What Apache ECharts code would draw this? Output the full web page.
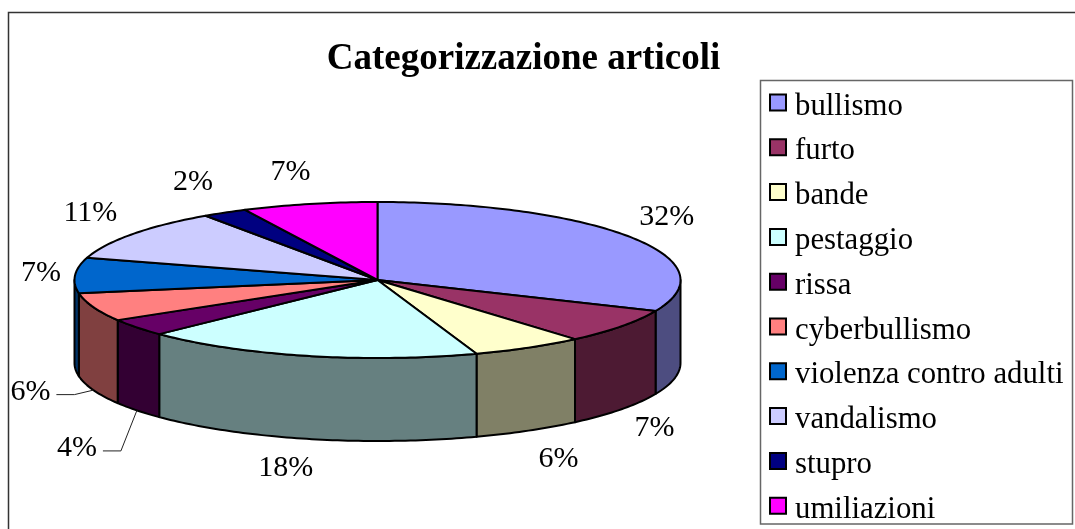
<!DOCTYPE html>
<html><head><meta charset="utf-8">
<style>html,body{margin:0;padding:0;background:#fff}#c{width:1075px;height:529px}</style>
<script src="https://cdn.jsdelivr.net/npm/echarts@6/dist/echarts.min.js"></script>
</head><body><div id="c"></div>
<script>
const categories = ['bullismo','furto','bande','pestaggio','rissa','cyberbullismo','violenza contro adulti','vandalismo','stupro','umiliazioni'];
const shares = [31.5,7.2,6.0,18.1,3.6,5.9,7.3,10.8,2.4,7.2];
const colors = ['#9999FF','#993366','#FFFFCC','#CCFFFF','#660066','#FF8080','#0066CC','#CCCCFF','#000080','#FF00FF'];
const leaderLabels = ['rissa','cyberbullismo'];

// layout only
const FONT = '"Liberation Serif", serif';
const PIE = {cx:377.5, cy:280, rx:303, ry:78, depth:83};
const LABEL_NUDGE = [[36,-20],[33,19],[30,28],[-21,29],[-60,38],[-63,2],[-34,-2],[-42,-21],[-32,-30],[-19,-32]];

const total = shares.reduce((a,b)=>a+b,0);
const starts = [];
shares.reduce((acc,v,i)=>{starts[i]=acc;return acc+v;},0);
const rad = pct => pct/total*2*Math.PI;
const rim = (a,dy=0) => [PIE.cx+PIE.rx*Math.sin(a), PIE.cy-PIE.ry*Math.cos(a)+dy];
function arc(a0,a1,dy=0){
  const n=Math.max(2,Math.ceil((a1-a0)/(Math.PI/180)));
  const p=[];
  for(let k=0;k<=n;k++)p.push(rim(a0+(a1-a0)*k/n,dy));
  return p;
}
function shade(hex){
  const n=parseInt(hex.slice(1),16);
  const h=v=>Math.round(v*0.5).toString(16).padStart(2,'0');
  return '#'+h(n>>16&255)+h(n>>8&255)+h(n&255);
}
function renderSlice(params,api){
  const i=params.seriesIndex, value=api.value(0);
  const a0=rad(starts[i]), a1=rad(starts[i]+value), mid=(a0+a1)/2;
  const children=[];
  const s0=Math.max(a0,Math.PI/2), s1=Math.min(a1,Math.PI*1.5);
  if(s1>s0){
    children.push({type:'polygon',z2:1,shape:{points:arc(s0,s1).concat(arc(s0,s1,PIE.depth).reverse())},
      style:{fill:shade(colors[i]),stroke:'#000',lineWidth:2,lineJoin:'round'}});
  }
  children.push({type:'polygon',z2:2,shape:{points:[[PIE.cx,PIE.cy]].concat(arc(a0,a1))},
    style:{fill:colors[i],stroke:'#000',lineWidth:2,lineJoin:'round'}});
  const anchor=rim(mid,Math.cos(mid)<0?PIE.depth:0);
  const lx=anchor[0]+LABEL_NUDGE[i][0], ly=anchor[1]+LABEL_NUDGE[i][1];
  children.push({type:'text',z2:3,style:{text:Math.round(value)+'%',x:lx,y:ly,align:'center',verticalAlign:'middle',
    font:'30px '+FONT,fill:'#000'}});
  if(leaderLabels.includes(categories[i])){
    children.push({type:'polyline',z2:3,shape:{points:[[lx+26,ly+2.5],[lx+44,ly+2.5],anchor]},
      style:{fill:null,stroke:'#222',lineWidth:1}});
  }
  return {type:'group',children};
}
const chart=echarts.init(document.getElementById('c'),null,{renderer:'canvas'});
chart.setOption({
  animation:false,
  backgroundColor:'#fff',
  title:{text:'Categorizzazione articoli',left:518.5,top:36,textAlign:'center',
    textStyle:{fontFamily:FONT,fontSize:37,fontWeight:'bold',color:'#000'}},
  legend:{orient:'vertical',left:764,top:78,height:480,selectedMode:false,data:categories,icon:'rect',
    itemWidth:16,itemHeight:16,itemGap:5.8,
    itemStyle:{borderColor:'#000',borderWidth:2},
    formatter:name=>'{t|'+name+'}',
    textStyle:{fontFamily:FONT,fontSize:30.8,color:'#000',
      rich:{t:{fontFamily:FONT,fontSize:30.8,color:'#000',lineHeight:30,padding:[8,0,0,4]}}}},
  graphic:[
    {type:'rect',silent:true,z:-1,shape:{x:8.5,y:12.5,width:1080,height:530},style:{fill:'#fff',stroke:'#333',lineWidth:1.5}},
    {type:'rect',silent:true,z:-1,shape:{x:760.5,y:80.5,width:312,height:443.5},style:{fill:'#fff',stroke:'#666',lineWidth:1.5}}
  ],
  series:categories.map((name,i)=>({
    type:'custom',name,coordinateSystem:'none',silent:true,clip:false,
    itemStyle:{color:colors[i]},
    renderItem:renderSlice,
    data:[[shares[i]]]
  }))
});
</script></body></html>
